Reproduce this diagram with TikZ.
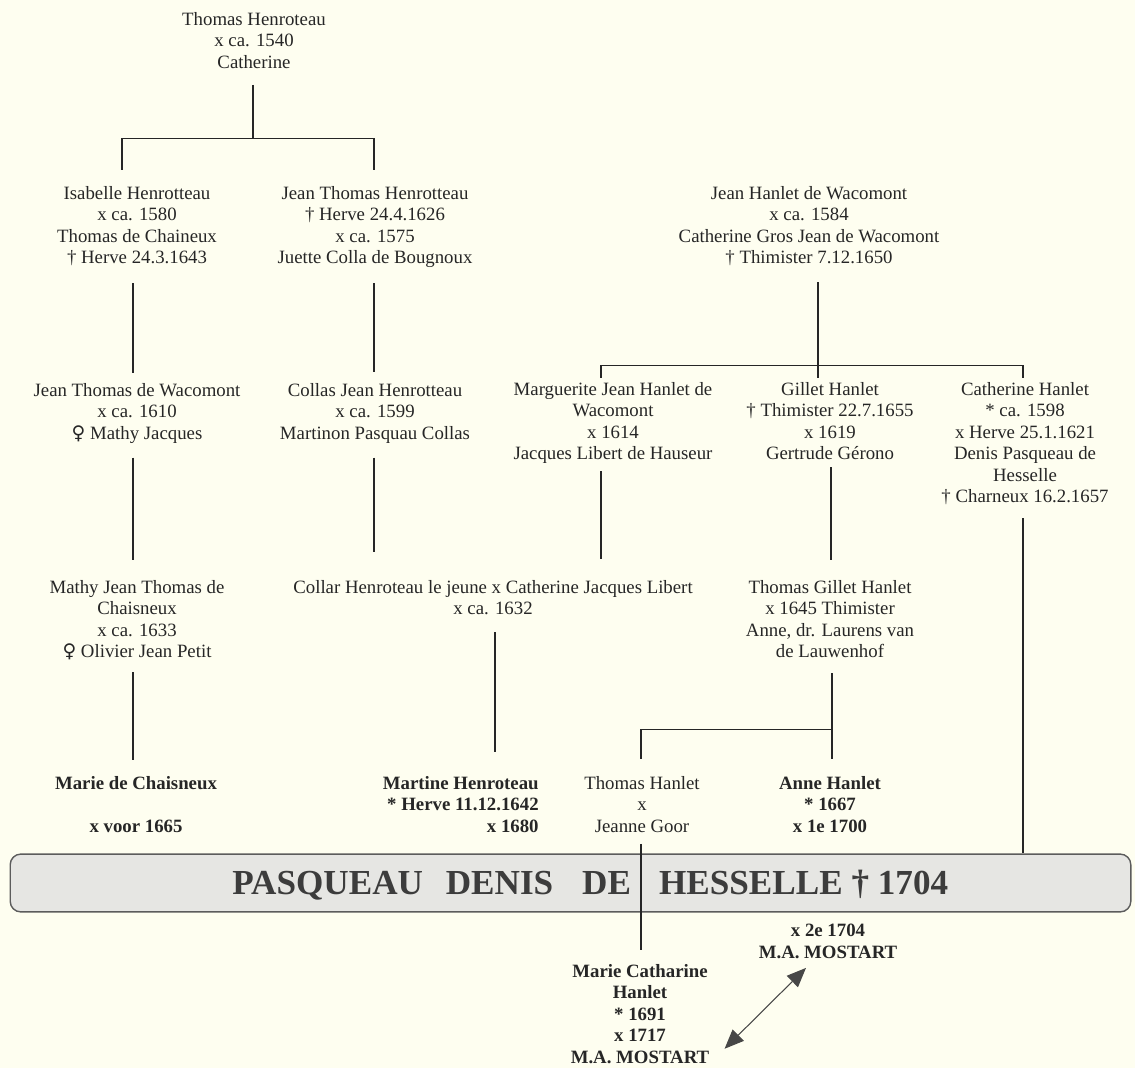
\documentclass[tikz,border=0pt]{standalone}
\usepackage{fontspec}
\setmainfont{Liberation Serif}
\newfontfamily\symfont{DejaVu Sans}
\usetikzlibrary{calc}
\usetikzlibrary{arrows.meta}
\definecolor{paper}{HTML}{FEFEF0}
\definecolor{ink}{HTML}{262626}
\definecolor{bannerfill}{HTML}{E6E6E3}
\newcommand{\venus}{{\symfont ♀}}

\begin{document}
\begin{tikzpicture}[x=0.02cm,y=-0.02cm,
	person/.style={align=center,inner sep=0pt,anchor=north,text=ink,font=\fontsize{10.7}{12.2}\selectfont},
	heir/.style={person,font=\fontsize{10.7}{12.2}\selectfont\bfseries},
	line/.style={draw=ink,line width=0.7pt},
	banner/.style={draw=ink!75,fill=bannerfill,rounded corners=6pt,line width=0.8pt,
		minimum width=637.8pt,minimum height=32.9pt,inner sep=0pt},
	arrowline/.style={draw=ink!85,line width=0.6pt,{Triangle[length=11pt,width=9pt]}-{Triangle[length=11pt,width=9pt]}}]
	\useasboundingbox (0,0) rectangle (1135,1068);
	\fill[paper] (0,0) rectangle (1135,1068);

	\node[person] (top) at (254,12) {Thomas Henroteau\\x ca. 1540\\Catherine};
	\node[person] (isab) at (137,186) {Isabelle Henrotteau\\x ca. 1580\\Thomas de Chaineux\\† Herve 24.3.1643};
	\node[person] (jth) at (375,186) {Jean Thomas Henrotteau\\† Herve 24.4.1626\\x ca. 1575\\Juette Colla de Bougnoux};
	\node[person] (jhw) at (809,186) {Jean Hanlet de Wacomont\\x ca. 1584\\Catherine Gros Jean de Wacomont\\† Thimister 7.12.1650};
	\node[person] (jtw) at (137,383) {Jean Thomas de Wacomont\\x ca. 1610\\\venus\ Mathy Jacques};
	\node[person] (collas) at (375,383) {Collas Jean Henrotteau\\x ca. 1599\\Martinon Pasquau Collas};
	\node[person] (marg) at (613,382) {Marguerite Jean Hanlet de\\Wacomont\\x 1614\\Jacques Libert de Hauseur};
	\node[person] (gillet) at (830,382) {Gillet Hanlet\\† Thimister 22.7.1655\\x 1619\\Gertrude Gérono};
	\node[person] (cath) at (1025,382) {Catherine Hanlet\\* ca. 1598\\x Herve 25.1.1621\\Denis Pasqueau de\\Hesselle\\† Charneux 16.2.1657};
	\node[person] (mathy) at (137,580) {Mathy Jean Thomas de\\Chaisneux\\x ca. 1633\\\venus\ Olivier Jean Petit};
	\node[person] (collar) at (493,580) {Collar Henroteau le jeune x Catherine Jacques Libert\\x ca. 1632};
	\node[person] (tgh) at (830,580) {Thomas Gillet Hanlet\\x 1645 Thimister\\Anne, dr. Laurens van\\de Lauwenhof};
	\node[heir] (marie) at (136,776) {Marie de Chaisneux\\[12.2pt]x voor 1665};
	\node[heir,align=right,anchor=north east] (martine) at (539,776) {Martine Henroteau\\* Herve 11.12.1642\\x 1680};
	\node[person] (thh) at (642,776) {Thomas Hanlet\\x\\Jeanne Goor};
	\node[heir] (anne) at (830,776) {Anne Hanlet\\* 1667\\x 1e 1700};
	\node[heir] (x2e) at (828,924) {x 2e 1704\\M.A. MOSTART};
	\node[heir] (mch) at (640,964) {Marie Catharine\\Hanlet\\* 1691\\x 1717\\M.A. MOSTART};

	% поколение 1
	\draw[line] ($(top.south)+(-1,16)$) -- ++(0,54) coordinate (b1);
	\draw[line] (b1) -| ($(isab.north)+(-15,-16)$);
	\draw[line] (b1) -| ($(jth.north)+(-1,-16)$);
	% поколение 2
	\draw[line] ($(isab.south)+(-4,17)$) -- ($(jtw.north)+(-4,-10)$);
	\draw[line] ($(jth.south)+(-1,15)$) -- ($(collas.north)+(-1,-11)$);
	\draw[line] ($(jhw.south)+(9,16)$) -- ++(0,83) coordinate (b2);
	\foreach \n/\dx in {marg/-12,gillet/-12,cath/-2}
		\draw[line] (b2) -| ($(\n.north)+(\dx,-4)$);
	% поколение 3
	\draw[line] ($(jtw.south)+(-4,14)$) -- ($(mathy.north)+(-4,-20)$);
	\draw[line] ($(collas.south)+(-1,14)$) -- ($(collas.south |- collar.north)+(-1,-28)$);
	\draw[line] ($(marg.south)+(-12,7)$) -- ($(marg.south |- collar.north)+(-12,-21)$);
	\draw[line] ($(gillet.south)+(1,7)$) -- ($(tgh.north)+(1,-20)$);
	% поколение 4
	\draw[line] ($(mathy.south)+(-4,12)$) -- ($(marie.north)+(-3,-16)$);
	\draw[line] ($(collar.south)+(2,17)$) -- ($(collar.south |- martine.north)+(2,-24)$);
	\draw[line] ($(tgh.south)+(2,15)$) -- ++(0,56) coordinate (b3);
	\foreach \n/\dx in {thh/-1,anne/2}
		\draw[line] (b3) -| ($(\n.north)+(\dx,-17)$);

	% полоса с именем
	\node[banner] (banner) at (570.5,883) {};
	\node[anchor=base west,inner sep=0pt,text=ink!90,font=\fontsize{20}{21}\selectfont\bfseries] (title)
		at (232,894) {PASQUEAU\hspace{13pt}DENIS\hspace{16.5pt}DE\hspace{16pt}HESSELLE † 1704};
	\draw[line] ($(cath.south)+(-2,13)$) -- ($(cath.south |- banner.north)+(-2,0)$);
	\draw[line] ($(thh.south)+(-1,11)$) -- ($(mch.north)+(1,-14)$);
	\draw[arrowline] ($(mch.south east)+(15,-15)$) -- ($(x2e.south)+(-22,9)$);
\end{tikzpicture}
\end{document}
